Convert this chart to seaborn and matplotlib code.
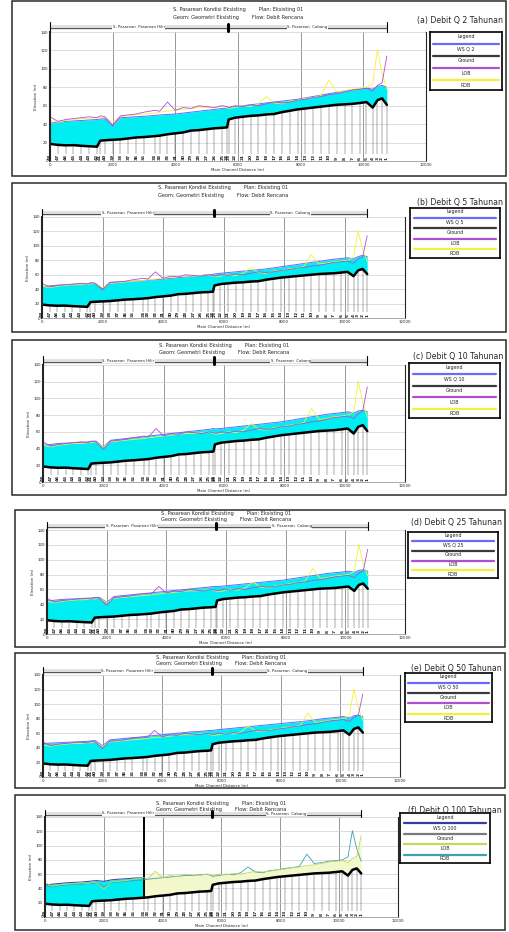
import matplotlib
matplotlib.use('Agg')
import matplotlib.pyplot as plt
from matplotlib.patches import Rectangle
from matplotlib.transforms import blended_transform_factory
import seaborn as sns

sns.set_style('white')
plt.rcParams['font.family'] = ['DejaVu Sans']

# main channel distance of each cross section (m)
dist = [0, 250, 500, 750, 1000, 1250, 1500, 1600, 1750, 2000, 2250, 2500, 2750, 3000,
        3350, 3500, 3750, 4000, 4250, 4500, 4750, 5000, 5250, 5500, 5650, 5700, 5900,
        6150, 6400, 6650, 6900, 7150, 7400, 7650, 7900, 8150, 8400, 8650, 8900, 9150,
        9400, 9650, 9900, 10100, 10300, 10450, 10600, 10750]

ground = [18.6, 17.5, 17.0, 17.2, 16.5, 16.0, 15.5, 22.0, 22.5, 23.0, 23.5, 24.5, 25.5,
          26.0, 27.0, 27.5, 29.0, 30.0, 31.0, 33.0, 33.5, 34.5, 35.5, 36.0, 36.5, 45.0,
          47.0, 48.0, 49.0, 49.5, 50.5, 51.0, 53.0, 54.5, 56.0, 57.0, 58.0, 59.0, 60.0,
          61.0, 61.5, 62.0, 63.0, 64.0, 58.0, 66.0, 68.0, 61.0]

lob = [48, 43, 45, 46, 47, 48, 47, 49, 48, 39, 49, 50, 51, 53, 55, 54, 64, 55, 58, 57,
       60, 59, 58, 60, 59, 58, 60, 59, 61, 60, 62, 64, 63, 64, 66, 67, 69, 70, 72, 73,
       75, 77, 78, 79, 76, 82, 85, 114]

rob = [44, 42, 44, 45, 46, 46, 47, 47, 48, 42, 48, 49, 50, 51, 52, 53, 54, 55, 56, 57,
       58, 58, 59, 60, 58, 57, 58, 60, 59, 62, 70, 63, 62, 65, 66, 68, 69, 71, 88, 75,
       76, 78, 79, 80, 84, 121, 95, 78]

ws_q2 = [41, 42, 43, 43.5, 44, 44.5, 45, 45.5, 46, 38, 47, 47.5, 48, 48.5, 49.5, 50,
         50.5, 51, 52, 53, 54, 55, 56, 57, 57.5, 58, 59, 60, 61, 62, 63, 64, 65, 66, 67,
         68.5, 70, 71.5, 73, 74.5, 76, 77, 78, 79, 78, 81, 82, 80]
ws_q5 = [43.5, 44.5, 45.5, 46, 46.5, 47, 47.5, 48, 48.5, 41, 49.5, 50, 50.5, 51, 52,
         52.5, 53, 54, 55, 56, 57, 58, 59, 60, 60.5, 61, 62, 63, 64, 65, 66, 67, 68,
         69.5, 71, 72.5, 74, 75.5, 77, 78.5, 80, 81.5, 82.5, 83.5, 82, 85, 87, 85]
ws_q10 = [44, 45, 46, 46.5, 47, 47.5, 48, 48.5, 49, 42, 50, 51, 52, 53, 54, 55, 56, 57,
          58, 59, 60, 61, 62, 63, 64, 63.5, 64, 65, 66, 67, 68, 69, 70, 71, 72, 73.5, 75,
          76.5, 78, 79.5, 81, 82, 83, 84, 82.5, 85, 86, 84]
ws_q25 = [44.5, 45.5, 46.5, 47, 47.5, 48, 48.5, 49, 49.5, 42.5, 50.5, 51.5, 52.5, 53.5,
          54.5, 55.5, 56.5, 57.5, 58.5, 59.5, 60.5, 61.5, 62.5, 63.5, 64, 64, 64.5, 65.5,
          66.5, 67.5, 68.5, 69.5, 70.5, 71.5, 72.5, 74, 75.5, 77, 78.5, 80, 81.5, 82.5,
          83.5, 84.5, 83, 85.5, 86.5, 84.5]
ws_q50 = [46, 46.5, 47, 47.5, 48, 48.5, 49, 49.5, 50, 43, 51, 52, 53, 54, 55, 56, 57, 58,
          59, 60, 61, 62, 62.5, 63.5, 64, 64, 65, 66, 67, 68, 69, 70, 71, 72, 73, 74, 75,
          76, 77, 78.5, 80, 81, 82, 83, 81, 84, 85, 83]
# Q100: water surface only computed up to the structure at 3350 m
ws_q100 = [45, 46, 47, 48, 48.5, 49, 50, 50.5, 51, 50, 52, 53, 53.5, 54.5, 55]

junction = 5670
structure = 3350
labels = ['(a) Debit Q 2 Tahunan', '(b) Debit Q 5 Tahunan', '(c) Debit Q 10 Tahunan',
          '(d) Debit Q 25 Tahunan', '(e) Debit Q 50 Tahunan', '(f) Debit Q 100 Tahunan']
flows = ['Q 2', 'Q 5', 'Q 10', 'Q 25', 'Q 50', 'Q 100']
ws_all = [ws_q2, ws_q5, ws_q10, ws_q25, ws_q50, ws_q100]
legend_names = ['Ground', 'LOB', 'ROB']
xs_labels = [str(n) for n in range(len(dist), 0, -1)]

# pixel boxes (x0, y0, x1, y1) of frame, plot area and legend for each panel
frames = [(12, 1, 506, 176), (12, 183, 506, 332), (12, 340, 506, 495),
          (15, 510, 505, 647), (15, 653, 505, 788), (15, 795, 505, 930)]
plots = [(50, 32, 426, 161), (42, 217, 405, 318), (43, 365, 405, 482),
         (47, 530, 405, 634), (43, 675, 400, 777), (45, 817, 398, 917)]
legends = [(430, 32, 502, 90), (410, 208, 500, 258), (409, 363, 500, 418),
           (408, 532, 498, 578), (405, 673, 492, 722), (400, 813, 490, 863)]
title_y = [10, 188, 345, 513, 657, 803]
label_y = [21, 203, 356, 523, 668, 810]

W, H = 510, 932


def rect(box):
    x0, y0, x1, y1 = box
    return [x0 / W, 1 - y1 / H, (x1 - x0) / W, (y1 - y0) / H]


fig = plt.figure(figsize=(5.1, 9.32), dpi=100)

for i in range(6):
    last = i == 5
    ws = ws_all[i]
    if last:
        c_ws, c_gr, c_lob, c_rob = '#3b3b9e', '#7a7a7a', '#c9d65a', '#3aa0b2'
    else:
        c_ws, c_gr, c_lob, c_rob = '#6a6aff', '#3a3a3a', '#b050d0', '#f2f23a'

    fig.add_artist(Rectangle((rect(frames[i])[0], rect(frames[i])[1]),
                             rect(frames[i])[2], rect(frames[i])[3],
                             transform=fig.transFigure, fill=False,
                             ec='#2a2a2a', lw=1.1))

    ax = fig.add_axes(rect(plots[i]))
    ax.set_xlim(0, 12000)
    ax.set_ylim(0, 140)
    ax.set_xticks(range(0, 12001, 2000))
    ax.set_yticks(range(0, 141, 20))
    ax.tick_params(labelsize=2.8, length=0, pad=1.5)
    ax.yaxis.grid(True, color='#cfcfcf', lw=0.5)
    ax.xaxis.grid(True, color='#6f6f6f', lw=0.5)
    ax.set_axisbelow(True)
    ax.spines['top'].set_visible(False)
    ax.spines['left'].set_linewidth(1.5)
    ax.spines['right'].set_linewidth(0.8)
    ax.spines['bottom'].set_color('#9a9a9a')
    ax.spines['bottom'].set_linewidth(0.6)
    ax.set_xlabel('Main Channel Distance (m)', fontsize=2.8, labelpad=1)
    ax.set_ylabel('Elevation (m)', fontsize=2.8, labelpad=2)

    # cross-section lines and station labels
    ax.vlines(dist, 8, ground, colors='#5a5a5a', lw=0.35)
    for d, s in zip(dist, xs_labels):
        ax.text(d, 1.5, s, rotation=90, fontsize=3.2, fontweight='bold',
                ha='center', va='bottom', color='#1a1a1a')

    n = len(ws)
    ax.fill_between(dist[:n], ground[:n], ws, color='#00eef2', lw=0)
    if last:
        ax.fill_between(dist[n - 1:], ground[n - 1:], lob[n - 1:],
                        color='#f3f7cc', lw=0)
        ax.vlines(structure, ground[n - 1], 140, colors='black', lw=1.4)
    sns.lineplot(x=dist[:n], y=ws, color=c_ws, lw=0.7, ax=ax)
    sns.lineplot(x=dist, y=rob, color=c_rob, lw=0.6, ax=ax)
    sns.lineplot(x=dist, y=lob, color=c_lob, lw=0.6, ax=ax)
    sns.lineplot(x=dist, y=ground, color='black', lw=1.8, ax=ax)

    # reach bar above the plot
    tr = blended_transform_factory(ax.transData, ax.transAxes)
    for a, b, name in [(0, junction, 'S. Pasarean  Pasarean Hilir'),
                       (junction, dist[-1], 'S. Pasarean  Cabang')]:
        ax.plot([a, b], [1.035, 1.035], transform=tr, clip_on=False,
                color='#555555', lw=2.4, solid_capstyle='butt')
        ax.plot([a, b], [1.035, 1.035], transform=tr, clip_on=False,
                color='#e2e2e2', lw=1.4, solid_capstyle='butt')
        ax.text((a + b) / 2, 1.035, name, transform=tr, fontsize=2.8,
                ha='center', va='center',
                bbox=dict(fc='white', ec='none', pad=0.3))
    ax.plot([junction, junction], [1.005, 1.065], transform=tr, clip_on=False,
            color='black', lw=2.2)
    for e in (0, dist[-1]):
        ax.plot([e, e], [1.0, 1.075], transform=tr, clip_on=False,
                color='black', lw=0.8)

    # titles and panel label
    cx = (plots[i][0] + plots[i][2]) / 2 / W
    fig.text(cx, 1 - title_y[i] / H,
             'S. Pasarean Kondisi Eksisting        Plan: Eksisting 01',
             fontsize=3.6, ha='center', va='center')
    fig.text(cx, 1 - (title_y[i] + 7) / H,
             'Geom: Geometri Eksisting        Flow: Debit Rencana',
             fontsize=3.6, ha='center', va='center')
    fig.text((frames[i][2] - 3) / W, 1 - label_y[i] / H, labels[i],
             fontsize=5.6, ha='right', va='center')

    # legend box
    lg = fig.add_axes(rect(legends[i]))
    lg.set_xlim(0, 1)
    lg.set_ylim(0, 1)
    lg.set_xticks([])
    lg.set_yticks([])
    for sp in lg.spines.values():
        sp.set_linewidth(1.2)
        sp.set_color('black')
    lg.text(0.5, 0.92, 'Legend', fontsize=3.4, ha='center', va='center')
    names = ['WS ' + flows[i]] + legend_names
    colors = [c_ws, c_gr, c_lob, c_rob]
    for k, (nm, cl) in enumerate(zip(names, colors)):
        yl = 0.80 - k * 0.21
        lg.plot([0.04, 0.96], [yl, yl], color=cl, lw=1.6)
        lg.text(0.5, yl - 0.09, nm, fontsize=3.4, ha='center', va='center')

fig.savefig('out.png', dpi=100)
